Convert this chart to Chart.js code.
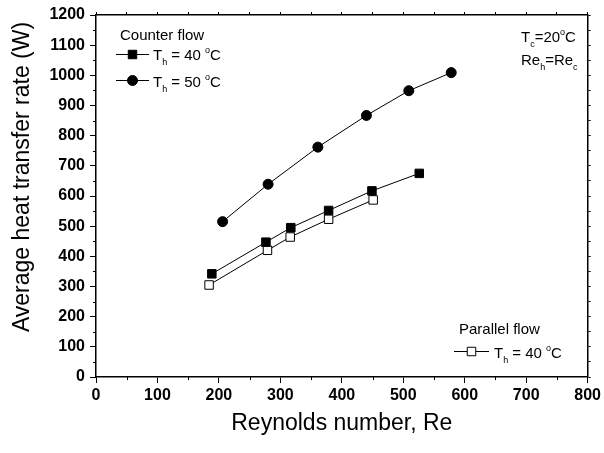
<!DOCTYPE html>
<html><head><meta charset="utf-8">
<script src="https://cdn.jsdelivr.net/npm/chart.js@4.4.0/dist/chart.umd.min.js"></script>
<style>html,body{margin:0;padding:0;background:#fff}#wrap{width:604px;height:453px}</style>
</head><body><div id="wrap"><canvas id="c" width="604" height="453"></canvas></div>
<script>
// ---- data ----
const counter40Re = [188.5, 276.5, 317, 378.5, 449, 526];
const counter40Q  = [342, 447, 495, 552, 617, 675];
const counter50Re = [206, 280, 361, 440, 509, 578];
const counter50Q  = [515, 639, 762, 867, 949, 1009];
const parallel40Re = [184, 279, 316, 378.5, 451];
const parallel40Q  = [305, 420, 464, 523, 587];
const xTickValues = [0, 100, 200, 300, 400, 500, 600, 700, 800];
const yTickValues = [0, 100, 200, 300, 400, 500, 600, 700, 800, 900, 1000, 1100, 1200];
const xMinorValues = [50, 150, 250, 350, 450, 550, 650, 750];
const yMinorValues = [50, 150, 250, 350, 450, 550, 650, 750, 850, 950, 1050, 1150];
const xTitle = 'Reynolds number, Re';
const yTitle = 'Average heat transfer rate (W)';

const FAM = '"Liberation Sans", Arial, sans-serif';
const pts = (xs, ys) => xs.map((x, i) => ({x: x, y: ys[i]}));

function drawRich(ctx, x, y, parts) {
  let cx = x;
  for (const [t, kind] of parts) {
    if (kind === 0) { ctx.font = '15px ' + FAM; ctx.fillText(t, cx, y); }
    else if (kind === 1) { ctx.font = '9px ' + FAM; ctx.fillText(t, cx, y + 5); }
    else { ctx.font = '9px ' + FAM; ctx.fillText(t, cx, y - 7); }
    cx += ctx.measureText(t).width;
  }
}

const decor = {
  id: 'decor',
  afterDraw(chart) {
    const ctx = chart.ctx;
    const xs = chart.scales.x, ys = chart.scales.y;
    ctx.save();
    ctx.strokeStyle = '#000'; ctx.lineWidth = 1;
    // minor ticks
    ctx.beginPath();
    for (const v of xMinorValues) {
      const px = Math.round(xs.getPixelForValue(v)) + 0.5;
      ctx.moveTo(px, xs.top); ctx.lineTo(px, xs.top + 3);
    }
    for (const v of yMinorValues) {
      const py = Math.round(ys.getPixelForValue(v)) + 0.5;
      ctx.moveTo(ys.right, py); ctx.lineTo(ys.right - 3, py);
    }
    ctx.stroke();
    // y title
    ctx.fillStyle = '#000';
    ctx.save();
    ctx.translate(23, 177);
    ctx.rotate(-Math.PI / 2);
    ctx.textAlign = 'center'; ctx.textBaseline = 'middle';
    ctx.font = '23px ' + FAM;
    ctx.fillText(yTitle, 0, 0);
    ctx.restore();
    // legends
    ctx.textAlign = 'left'; ctx.textBaseline = 'alphabetic';
    ctx.font = '15px ' + FAM;
    ctx.fillText('Counter flow', 120, 40);
    const legendLine = (x1, x2, y) => {
      ctx.beginPath(); ctx.moveTo(x1, y + 0.5); ctx.lineTo(x2, y + 0.5); ctx.stroke();
    };
    legendLine(116, 149, 54);
    ctx.fillStyle = '#000';
    Chart.helpers.drawPoint(ctx, {pointStyle: 'rect', radius: 6, borderWidth: 1}, 132.5, 54.5);
    legendLine(116, 149, 80);
    ctx.fillStyle = '#000';
    Chart.helpers.drawPoint(ctx, {pointStyle: 'circle', radius: 5, borderWidth: 1}, 132.5, 80.5);
    ctx.fillStyle = '#000';
    drawRich(ctx, 153, 60, [['T', 0], ['h', 1], [' = 40 ', 0], ['o', 2], ['C', 0]]);
    drawRich(ctx, 153, 87, [['T', 0], ['h', 1], [' = 50 ', 0], ['o', 2], ['C', 0]]);
    // right-top annotation
    drawRich(ctx, 521, 42, [['T', 0], ['c', 1], ['=20', 0], ['o', 2], ['C', 0]]);
    drawRich(ctx, 521, 65, [['Re', 0], ['h', 1], ['=Re', 0], ['c', 1]]);
    // parallel flow legend
    ctx.font = '15px ' + FAM;
    ctx.fillText('Parallel flow', 459, 334);
    legendLine(454, 489, 351);
    ctx.fillStyle = '#fff';
    Chart.helpers.drawPoint(ctx, {pointStyle: 'rect', radius: 6, borderWidth: 1}, 471.5, 351.5);
    ctx.fillStyle = '#000';
    drawRich(ctx, 494, 358, [['T', 0], ['h', 1], [' = 40 ', 0], ['o', 2], ['C', 0]]);
    ctx.restore();
  }
};

const axisCommon = {
  type: 'linear',
  border: {display: true, color: '#000', width: 1.5},
};
const plain = v => String(v);

new Chart(document.getElementById('c'), {
  type: 'scatter',
  data: {
    datasets: [
      {label: 'Counter flow Th = 40 °C', data: pts(counter40Re, counter40Q), showLine: true,
       borderColor: '#000', backgroundColor: '#000', borderWidth: 1,
       pointStyle: 'rect', pointRadius: 6, pointBorderWidth: 1, pointHoverRadius: 6},
      {label: 'Counter flow Th = 50 °C', data: pts(counter50Re, counter50Q), showLine: true,
       borderColor: '#000', backgroundColor: '#000', borderWidth: 1,
       pointStyle: 'circle', pointRadius: 5, pointBorderWidth: 1, pointHoverRadius: 5},
      {label: 'Parallel flow Th = 40 °C', data: pts(parallel40Re, parallel40Q), showLine: true,
       borderColor: '#000', backgroundColor: '#fff', borderWidth: 1,
       pointStyle: 'rect', pointRadius: 6, pointBorderWidth: 1, pointHoverRadius: 6}
    ]
  },
  options: {
    responsive: false, animation: false, devicePixelRatio: 1,
    layout: {padding: 0},
    plugins: {legend: {display: false}, tooltip: {enabled: false}},
    scales: {
      x: Object.assign({}, axisCommon, {
        position: 'bottom', min: 0, max: 800,
        afterBuildTicks: s => { s.ticks = xTickValues.map(v => ({value: v})); },
        ticks: {font: {family: FAM, size: 16, weight: 'bold'}, color: '#000', padding: 3, maxRotation: 0, autoSkip: false, callback: plain},
        grid: {drawOnChartArea: false, drawTicks: true, tickLength: 6, color: '#000', lineWidth: 1},
        title: {display: true, text: xTitle, color: '#000', font: {family: FAM, size: 23, lineHeight: 1}, padding: {top: 0, bottom: 18}},
        afterFit: s => { s.height = 76; }
      }),
      y: Object.assign({}, axisCommon, {
        position: 'left', min: 0, max: 1200,
        afterBuildTicks: s => { s.ticks = yTickValues.map(v => ({value: v})); },
        ticks: {font: {family: FAM, size: 16, weight: 'bold'}, color: '#000', padding: 5, autoSkip: false, callback: plain},
        grid: {drawOnChartArea: false, drawTicks: true, tickLength: 6, color: '#000', lineWidth: 1},
        afterFit: s => { s.width = 96; }
      }),
      x2: Object.assign({}, axisCommon, {
        position: 'top', min: 0, max: 800,
        ticks: {stepSize: 50, callback: () => '', font: {size: 1}, padding: 0},
        grid: {drawOnChartArea: false, drawTicks: true, tickLength: 3, color: '#000', lineWidth: 1},
        afterFit: s => { s.height = 15; }
      }),
      y2: Object.assign({}, axisCommon, {
        position: 'right', min: 0, max: 1200,
        ticks: {stepSize: 50, callback: () => '', font: {size: 1}, padding: 0},
        grid: {drawOnChartArea: false, drawTicks: true, tickLength: 3, color: '#000', lineWidth: 1},
        afterFit: s => { s.width = 14; }
      })
    }
  },
  plugins: [decor]
});
</script>
</body></html>
